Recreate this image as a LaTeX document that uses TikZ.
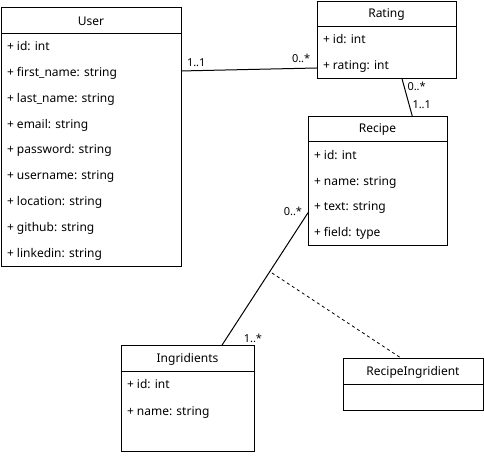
\documentclass[tikz,border=0pt]{standalone}
\usepackage{fontspec}
\setmainfont{Noto Sans}
\usetikzlibrary{calc}
\begin{document}
\begin{tikzpicture}[x=1pt,y=-1pt,line width=1pt,
  font=\fontsize{12}{14}\selectfont,
  cls/.style={draw,anchor=north west,inner sep=0pt,outer sep=0pt},
  hdr/.style={anchor=base,inner sep=0pt},
  attr/.style={anchor=base west,inner sep=0pt},
  mult/.style={anchor=base west,inner sep=0pt,font=\fontsize{11}{13}\selectfont},
  assoc/.style={line width=1pt},
  dashassoc/.style={line width=0.8pt,dash pattern=on 3pt off 3pt}]
\useasboundingbox (0,0) rectangle (484,455);

% User
\node[cls,minimum width=180pt,minimum height=259pt] (user) at (1,7) {};
\draw ($(user.north west)+(0,26)$) -- ($(user.north east)+(0,26)$);
\node[hdr] (userh) at (91,25) {User};
\node[attr] (u1) at (6.5,50) {+ id: int};
\node[attr] (u2) at (6.5,76) {+ first\_name: string};
\node[attr] (u3) at (6.5,102) {+ last\_name: string};
\node[attr] (u4) at (6.5,128) {+ email: string};
\node[attr] (u5) at (6.5,153.5) {+ password: string};
\node[attr] (u6) at (6.5,179.5) {+ username: string};
\node[attr] (u7) at (6.5,205.5) {+ location: string};
\node[attr] (u8) at (6.5,231.5) {+ github: string};
\node[attr] (u9) at (6.5,257) {+ linkedin: string};

% Rating
\node[cls,minimum width=139pt,minimum height=77pt] (rating) at (317,1) {};
\draw ($(rating.north west)+(0,25)$) -- ($(rating.north east)+(0,25)$);
\node[hdr] (ratingh) at (386.5,17) {Rating};
\node[attr] (r1) at (322.5,43.5) {+ id: int};
\node[attr] (r2) at (322.5,69) {+ rating: int};

% Recipe
\node[cls,minimum width=139pt,minimum height=129pt] (recipe) at (308,116) {};
\draw ($(recipe.north west)+(0,25)$) -- ($(recipe.north east)+(0,25)$);
\node[hdr] (recipeh) at (377.5,132.6) {Recipe};
\node[attr] (c1) at (313.5,159) {+ id: int};
\node[attr] (c2) at (313.5,185) {+ name: string};
\node[attr] (c3) at (313.5,210.5) {+ text: string};
\node[attr] (c4) at (313.5,236) {+ field: type};

% Ingridients
\node[cls,minimum width=133pt,minimum height=106pt] (ingr) at (121,345) {};
\draw ($(ingr.north west)+(0,26)$) -- ($(ingr.north east)+(0,26)$);
\node[hdr] (ingrh) at (187.5,362.6) {Ingridients};
\node[attr] (i1) at (126.5,388.6) {+ id: int};
\node[attr] (i2) at (126.5,415) {+ name: string};

% RecipeIngridient
\node[cls,minimum width=140pt,minimum height=52pt] (ri) at (343,358) {};
\draw ($(ri.north west)+(0,26)$) -- ($(ri.north east)+(0,26)$);
\node[hdr] (rih) at (413,375) {RecipeIngridient};

% connectors
\draw[assoc] ($(user.north east)!0.247!(user.south east)$) -- ($(rating.north west)!0.87!(rating.south west)$);
\draw[assoc] ($(rating.south west)!0.61!(rating.south east)$) -- ($(recipe.north west)!0.75!(recipe.north east)$);
\draw[assoc] ($(recipe.north west)!0.75!(recipe.south west)$) -- coordinate[pos=0.455] (mid) ($(ingr.north west)!0.76!(ingr.north east)$);
\draw[dashassoc] ($(mid)+(3,0)$) -- ($(ri.north west)!0.414!(ri.north east)$);

% multiplicities
\node[mult] (m1) at (186.5,66.5) {1..1};
\node[mult] (m2) at (291.5,62) {0..*};
\node[mult] (m3) at (407,90) {0..*};
\node[mult] (m4) at (412,108.3) {1..1};
\node[mult] (m5) at (283.3,215) {0..*};
\node[mult] (m6) at (243.3,342.3) {1..*};
\end{tikzpicture}
\end{document}
